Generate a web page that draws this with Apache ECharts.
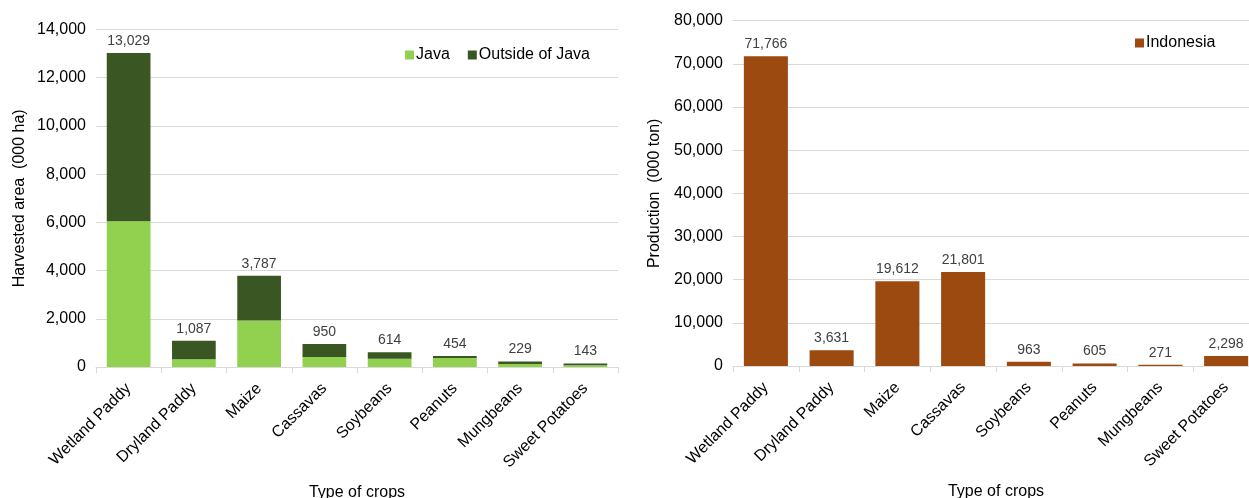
<!DOCTYPE html>
<html>
<head>
<meta charset="utf-8">
<script src="https://cdn.jsdelivr.net/npm/echarts@6/dist/echarts.min.js"></script>
<style>
  html, body { margin: 0; padding: 0; background: #fff; }
  #chart { width: 1249px; height: 498px; }
</style>
</head>
<body>
<div id="chart"></div>
<script>
const crops = ['Wetland Paddy', 'Dryland Paddy', 'Maize', 'Cassavas', 'Soybeans', 'Peanuts', 'Mungbeans', 'Sweet Potatoes']
const areaTotal = [13029, 1087, 3787, 950, 614, 454, 229, 143]
const areaJava = [6050, 320, 1930, 420, 340, 375, 125, 70]
const production = [71766, 3631, 19612, 21801, 963, 605, 271, 2298]

const areaOutside = areaTotal.map((t, i) => t - areaJava[i])
const fmt = (v) => v.toLocaleString('en-US')

const font = 'Liberation Sans, Arial, sans-serif'
const gridColor = '#d9d9d9'
const textColor = '#000'

const xAxisBase = (gridIndex) => ({
  type: 'category',
  gridIndex,
  data: crops,
  name: 'Type of crops',
  nameLocation: 'middle',
  nameGap: 118,
  nameTextStyle: { color: textColor, fontSize: 16, fontFamily: font },
  axisLine: { lineStyle: { color: gridColor, width: 1 } },
  axisTick: { show: true, length: 6, lineStyle: { color: gridColor } },
  axisLabel: {
    rotate: 45,
    interval: 0,
    color: textColor,
    fontSize: 16,
    fontFamily: font,
    margin: 19
  }
})

const yAxisBase = (gridIndex, max, interval, name, gap) => ({
  type: 'value',
  gridIndex,
  min: 0,
  max,
  interval,
  name,
  nameLocation: 'middle',
  nameGap: gap,
  nameTextStyle: { color: textColor, fontSize: 16, fontFamily: font },
  axisLine: { show: false },
  axisTick: { show: false },
  splitLine: { lineStyle: { color: gridColor, width: 1 } },
  axisLabel: {
    color: textColor,
    fontSize: 16,
    fontFamily: font,
    margin: 10,
    formatter: (v) => fmt(v)
  }
})

const labelStyle = {
  show: true,
  position: 'top',
  color: '#404040',
  fontSize: 14,
  fontFamily: font,
  distance: 5
}

const chart = echarts.init(document.getElementById('chart'), null, { renderer: 'canvas' })

const option = {
  animation: false,
  backgroundColor: '#fff',
  legend: [
    {
      data: ['Java', 'Outside of Java'],
      top: 42,
      left: 400,
      itemWidth: 9,
      itemHeight: 9,
      itemGap: 18,
      icon: 'rect',
      textStyle: { color: textColor, fontSize: 16, fontFamily: font, padding: [0, 0, 0, -3] }
    },
    {
      data: ['Indonesia'],
      top: 30,
      left: 1130,
      itemWidth: 9,
      itemHeight: 9,
      icon: 'rect',
      textStyle: { color: textColor, fontSize: 16, fontFamily: font, padding: [0, 0, 0, -3] }
    }
  ],
  grid: [
    { left: 96, right: 631, top: 29.5, bottom: 131, outerBoundsMode: 'none', containLabel: false },
    { left: 733, right: -10, top: 20.7, bottom: 132, outerBoundsMode: 'none', containLabel: false }
  ],
  xAxis: [xAxisBase(0), xAxisBase(1)],
  yAxis: [
    yAxisBase(0, 14000, 2000, 'Harvested area  (000 ha)', 68),
    yAxisBase(1, 80000, 10000, 'Production  (000 ton)', 70)
  ],
  series: [
    {
      name: 'Java',
      type: 'bar',
      stack: 'area',
      xAxisIndex: 0,
      yAxisIndex: 0,
      barCategoryGap: '33%',
      itemStyle: { color: '#92d050' },
      data: areaJava
    },
    {
      name: 'Outside of Java',
      type: 'bar',
      stack: 'area',
      xAxisIndex: 0,
      yAxisIndex: 0,
      barCategoryGap: '33%',
      itemStyle: { color: '#3a5723' },
      label: {
        ...labelStyle,
        formatter: (p) => fmt(areaTotal[p.dataIndex])
      },
      data: areaOutside
    },
    {
      name: 'Indonesia',
      type: 'bar',
      xAxisIndex: 1,
      yAxisIndex: 1,
      barCategoryGap: '33%',
      itemStyle: { color: '#9c4a10' },
      label: {
        ...labelStyle,
        formatter: (p) => fmt(p.value)
      },
      data: production
    }
  ]
}

chart.setOption(option)
</script>
</body>
</html>
